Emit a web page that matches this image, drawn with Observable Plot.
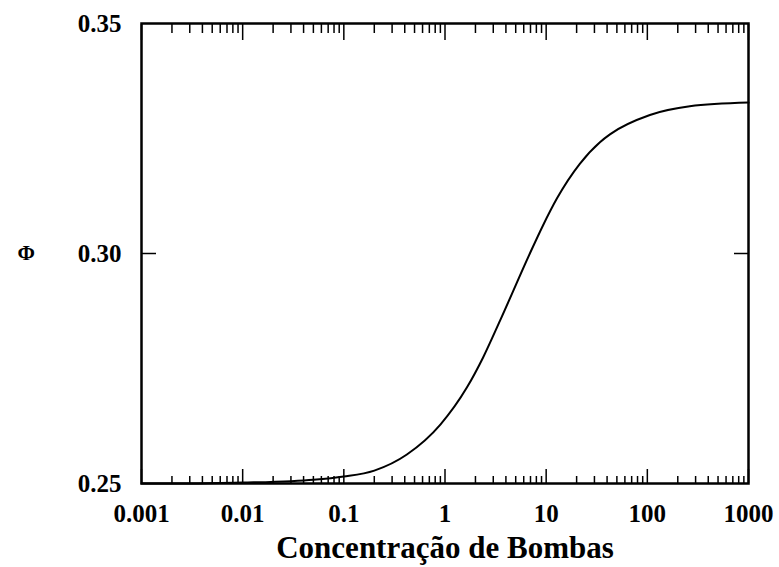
<!DOCTYPE html>
<html>
<head>
<meta charset="utf-8">
<script src="https://cdn.jsdelivr.net/npm/d3@7"></script>
<script src="https://cdn.jsdelivr.net/npm/@observablehq/plot@0.6"></script>
<style>
  html, body { margin: 0; padding: 0; background: #fff; }
  #chart { width: 779px; height: 567px; }
</style>
</head>
<body>
<div id="chart"></div>
<script>
// Data
const conc = [0.001, 0.003, 0.01, 0.03, 0.05, 0.1, 0.2, 0.42, 0.9, 1.65, 2.38, 3.5, 6.9, 9.3, 12.8, 21.5, 34, 42.7, 106, 263, 1000];
const phi  = [0.2500, 0.2500, 0.2502, 0.2505, 0.2508, 0.2515, 0.2528, 0.2563, 0.2628, 0.2709, 0.2774, 0.2854, 0.3000, 0.3061, 0.3120, 0.3195, 0.3242, 0.3259, 0.3301, 0.3320, 0.3328];

const xMajorTicks = [0.001, 0.01, 0.1, 1, 10, 100, 1000];
const xTickLabels = ["0.001", "0.01", "0.1", "1", "10", "100", "1000"];
const minorMultipliers = [2, 3, 4, 5, 6, 7, 8, 9];
const yTicks = [0.25, 0.30, 0.35];
const yTickLabels = ["0.25", "0.30", "0.35"];
const xTitle = "Concentração de Bombas";
const yTitle = "Φ";

const data = conc.map((c, i) => ({c, p: phi[i]}));
const xMinorTicks = xMajorTicks.slice(0, -1).flatMap(d => minorMultipliers.map(m => +(d * m).toPrecision(3)));

const font = "'Liberation Serif', 'Times New Roman', serif";

const chart = Plot.plot({
  width: 779,
  height: 567,
  marginLeft: 141,
  marginRight: 31,
  marginTop: 23,
  marginBottom: 84,
  style: {fontFamily: font, fontWeight: "bold", color: "#000", background: "#fff"},
  x: {type: "log", domain: [0.001, 1000]},
  y: {domain: [0.25, 0.35]},
  marks: [
    // bottom & top inward ticks
    Plot.axisX({anchor: "bottom", ticks: xMajorTicks, tickSize: -14, fill: "none", label: null, strokeWidth: 1.5}),
    Plot.axisX({anchor: "bottom", ticks: xMinorTicks, tickSize: -7, fill: "none", label: null, strokeWidth: 1.5}),
    Plot.axisX({anchor: "top", ticks: xMajorTicks, tickSize: -16, fill: "none", label: null, strokeWidth: 1.5}),
    Plot.axisX({anchor: "top", ticks: xMinorTicks, tickSize: -9, fill: "none", label: null, strokeWidth: 1.5}),
    // x tick labels
    Plot.axisX({anchor: "bottom", ticks: xMajorTicks, tickSize: 0, tickPadding: 21, fontSize: 25,
      tickFormat: d => xTickLabels[xMajorTicks.indexOf(d)], label: null}),
    // y inward ticks both sides
    Plot.axisY({anchor: "left", ticks: [0.30], tickSize: -15, fill: "none", label: null, strokeWidth: 1.5}),
    Plot.axisY({anchor: "right", ticks: [0.30], tickSize: -15, fill: "none", label: null, strokeWidth: 1.5}),
    // y tick labels
    Plot.axisY({anchor: "left", ticks: yTicks, tickSize: 0, tickPadding: 20, fontSize: 25,
      tickFormat: d => yTickLabels[yTicks.findIndex(t => Math.abs(t - d) < 1e-9)], label: null}),
    Plot.frame({stroke: "#000", strokeWidth: 2.5}),
    Plot.line(data, {x: "c", y: "p", curve: "monotone-x", stroke: "#000", strokeWidth: 2}),
    Plot.text([xTitle], {frameAnchor: "bottom", dy: 65, fontSize: 31, fontWeight: "bold", fill: "#000", lineAnchor: "middle"}),
    Plot.text([yTitle], {frameAnchor: "left", dx: -124, fontSize: 21, fontWeight: "bold", fill: "#000"})
  ]
});

document.getElementById("chart").appendChild(chart);
</script>
</body>
</html>
